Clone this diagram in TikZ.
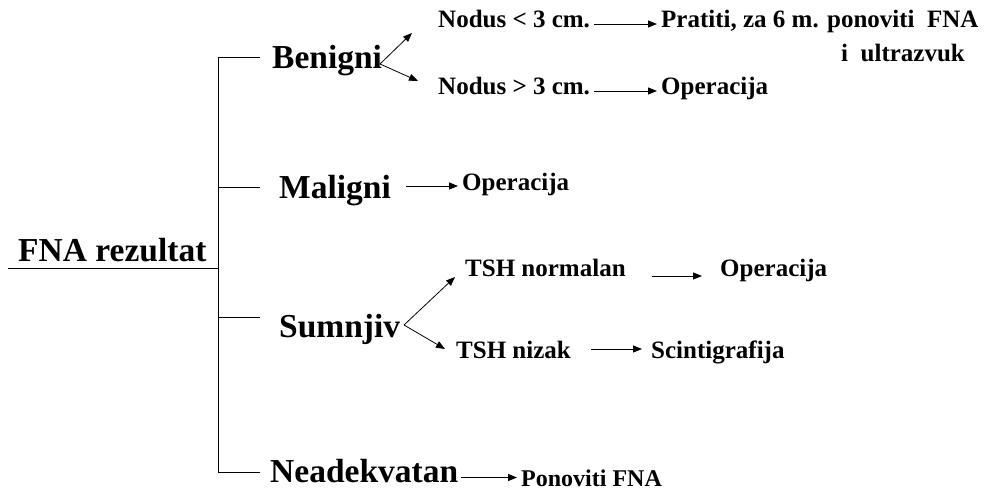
\documentclass[tikz,border=0pt]{standalone}
\usepackage{fontspec}
\setmainfont{Liberation Serif}
\usepackage{tikz}
\usetikzlibrary{arrows.meta, calc, positioning}

\tikzset{
  bigtxt/.style={font=\bfseries\fontsize{33.5}{38}\selectfont, anchor=base west,
    inner xsep=3pt, inner ysep=0pt, text height=23pt, text depth=7pt},
  smalltxt/.style={font=\bfseries\fontsize{25}{30}\selectfont, anchor=base west,
    inner xsep=4pt, inner ysep=0pt, text height=16pt, text depth=8pt},
  tick/.style={line width=0.8pt},
  arr/.style={->, line width=0.8pt}
}

\begin{document}
\begin{tikzpicture}[x=1pt, y=1pt, >={Triangle[length=9pt, width=7pt]}]
    \useasboundingbox (0,0) rectangle (995,-492);

    % root and the bracket
    \node[bigtxt, inner xsep=10pt] (root) at (8,-261) {FNA rezultat};
    \coordinate (tb) at (218,-57);
    \coordinate (tm) at (218,-187);
    \coordinate (ts) at (218,-317);
    \coordinate (tn) at (218,-472);
    \coordinate (stub) at (260,0);
    \draw[tick] (root.south west) -- (root.south west -| tb);
    \draw[tick] (tb) -- (tn);

    % first level
    \node[bigtxt] (benigni) at (269,-69) {Benigni};
    \node[bigtxt] (maligni) at (276,-198) {Maligni};
    \node[bigtxt] (sumnjiv) at (276,-337) {Sumnjiv};
    \node[bigtxt, text depth=2pt] (neadekvatan) at (267,-482) {Neadekvatan};
    \foreach \t in {tb, tm, ts, tn}
        \draw[tick] (\t) -- (\t -| stub);

    % Benigni
    \node[smalltxt] (nodusA) at (434,-28) {Nodus < 3 cm.};
    \node[smalltxt] (pratiti) at (657,-28) {Pratiti, za 6 m. ponoviti\ \ FNA};
    \node[smalltxt] (ultrazvuk) at (837,-62) {i\ \ ultrazvuk};
    \node[smalltxt] (nodusB) at (434,-95) {Nodus > 3 cm.};
    \node[smalltxt] (opB) at (657,-95) {Operacija};
    \coordinate (bfork) at (380,-64);
    \coordinate (bup) at (412,-33);
    \coordinate (bdown) at (418,-81);
    \draw[arr] (bfork) -- (bup);
    \draw[arr] (bfork) -- (bdown);
    \draw[arr] (nodusA.east) -- (pratiti.west);
    \draw[arr] (nodusB.east) -- (opB.west);

    % Maligni
    \node[smalltxt] (opM) at (458,-190) {Operacija};
    \draw[arr, shorten <=12pt] (maligni.east |- opM.west) -- (opM.west);

    % Sumnjiv
    \node[smalltxt] (tshN) at (461,-276) {TSH normalan};
    \node[smalltxt] (opS) at (716,-276) {Operacija};
    \node[smalltxt] (tshZ) at (452,-358) {TSH nizak};
    \node[smalltxt] (scinti) at (647,-358) {Scintigrafija};
    \coordinate (sfork) at (404,-325);
    \coordinate (sup) at (455,-277);
    \coordinate (sdown) at (445,-349);
    \draw[arr] (sfork) -- (sup);
    \draw[arr] (sfork) -- (sdown);
    \draw[arr, shorten <=22pt, shorten >=14pt] ([yshift=-4pt]tshN.east) -- ([yshift=-4pt]opS.west);
    \draw[arr, shorten <=16pt, shorten >=5pt] ([yshift=5pt]tshZ.east) -- ([yshift=5pt]scinti.west);

    % Neadekvatan
    \node[smalltxt, font=\bfseries\fontsize{24}{28}\selectfont, text height=18pt, text depth=1pt]
        (ponoviti) at (517,-486) {Ponoviti FNA};
    \draw[arr] (neadekvatan.east |- ponoviti.west) -- (ponoviti.west);
\end{tikzpicture}
\end{document}
